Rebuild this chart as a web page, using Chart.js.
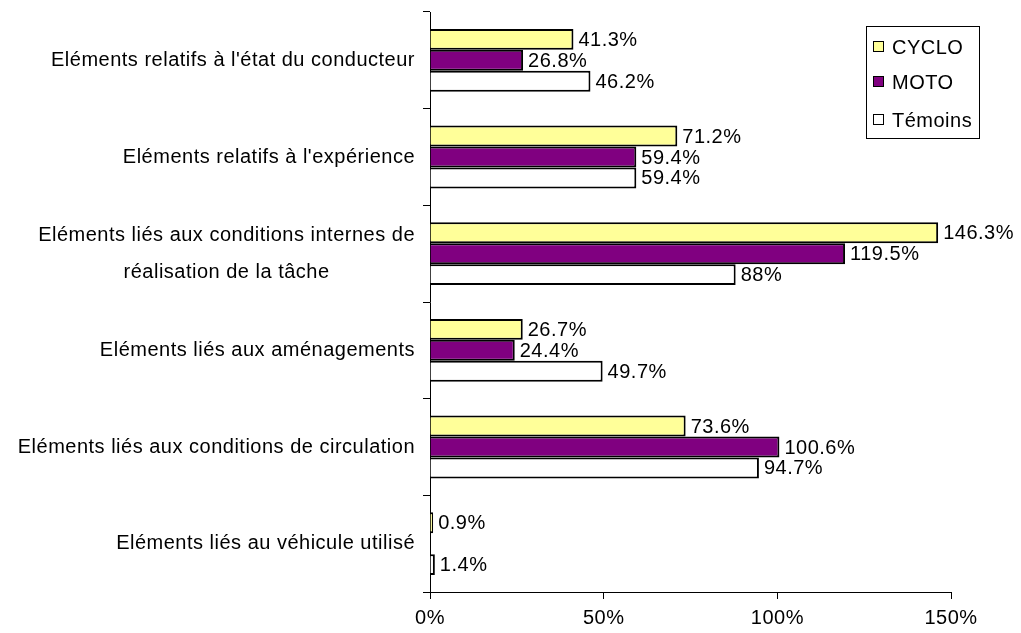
<!DOCTYPE html>
<html>
<head>
<meta charset="utf-8">
<script src="https://cdn.jsdelivr.net/npm/chart.js@4/dist/chart.umd.min.js"></script>
<style>
    html, body { margin: 0; padding: 0; background: #ffffff; }
    #wrap { width: 1021px; height: 633px; position: relative; }
</style>
</head>
<body>
<div id="wrap"><canvas id="chart"></canvas></div>
<script>
const categories = [
    ["Eléments relatifs à l'état du conducteur"],
    ["Eléments relatifs à l'expérience"],
    ["Eléments liés aux conditions internes de", "réalisation de la tâche"],
    ["Eléments liés aux aménagements"],
    ["Eléments liés aux conditions de circulation"],
    ["Eléments liés au véhicule utilisé"]
];
const seriesNames = ['CYCLO', 'MOTO', 'Témoins'];
const cycloValues = [41.3, 71.2, 146.3, 26.7, 73.6, 0.9];
const motoValues = [26.8, 59.4, 119.5, 24.4, 100.6, 0];
const temoinsValues = [46.2, 59.4, 88, 49.7, 94.7, 1.4];
const xTicks = [0, 50, 100, 150];

const FONT = '20px "Liberation Sans", Arial, sans-serif';
const SPACING = '0.5px';

Chart.defaults.font.family = '"Liberation Sans", Arial, sans-serif';
Chart.defaults.font.size = 20;
Chart.defaults.color = '#000000';

// slightly wider letter spacing, like the old office rendering
const spacing = {
    id: 'spacing',
    beforeDraw(chart) {
        chart.ctx.letterSpacing = SPACING;
    }
};

// category labels: block right aligned, lines centred inside it
const categoryLabels = {
    id: 'categoryLabels',
    afterDraw(chart) {
        const ctx = chart.ctx;
        const yScale = chart.scales.y;
        ctx.save();
        ctx.letterSpacing = SPACING;
        ctx.font = FONT;
        ctx.fillStyle = '#000';
        ctx.textAlign = 'center';
        ctx.textBaseline = 'middle';
        const right = yScale.right - 15;
        const lineH = 37;
        categories.forEach((lines, i) => {
            const cy = yScale.getPixelForValue(i);
            const maxW = Math.max(...lines.map(l => ctx.measureText(l).width));
            const cx = right - maxW / 2;
            const y0 = cy - (lines.length - 1) * lineH / 2;
            lines.forEach((l, j) => ctx.fillText(l, cx, y0 + j * lineH));
        });
        ctx.restore();
    }
};

// value labels at the end of each bar
const valueLabels = {
    id: 'valueLabels',
    afterDatasetsDraw(chart) {
        const ctx = chart.ctx;
        ctx.save();
        ctx.letterSpacing = SPACING;
        ctx.font = FONT;
        ctx.fillStyle = '#000';
        ctx.textAlign = 'left';
        ctx.textBaseline = 'middle';
        chart.data.datasets.forEach((ds, di) => {
            chart.getDatasetMeta(di).data.forEach((bar, i) => {
                const v = ds.data[i];
                if (!v) return;
                ctx.fillText(v + '%', bar.x + 5, bar.y + 1);
            });
        });
        ctx.restore();
    }
};

// boxed legend inside the plot, top right
const boxLegend = {
    id: 'boxLegend',
    afterDraw(chart) {
        const ctx = chart.ctx;
        ctx.save();
        ctx.letterSpacing = SPACING;
        ctx.strokeStyle = '#000';
        ctx.lineWidth = 1;
        ctx.strokeRect(866.5, 26.5, 113, 112);
        ctx.font = FONT;
        ctx.textAlign = 'left';
        ctx.textBaseline = 'middle';
        const rows = [47, 82, 120];
        chart.data.datasets.forEach((ds, i) => {
            ctx.fillStyle = ds.backgroundColor;
            ctx.fillRect(873.5, rows[i] - 5.5, 10, 10);
            ctx.strokeRect(873.5, rows[i] - 5.5, 10, 10);
            ctx.fillStyle = '#000';
            ctx.fillText(ds.label, 892, rows[i] + 1);
        });
        ctx.restore();
    }
};

const barStyle = {
    borderColor: '#000000',
    borderWidth: 2,
    categoryPercentage: 0.65,
    barPercentage: 1.0
};

new Chart(document.getElementById('chart').getContext('2d'), {
    type: 'bar',
    data: {
        labels: categories,
        datasets: [
            { label: seriesNames[0], data: cycloValues, backgroundColor: '#FFFF99', ...barStyle },
            { label: seriesNames[1], data: motoValues, backgroundColor: '#800080', ...barStyle },
            { label: seriesNames[2], data: temoinsValues, backgroundColor: '#FFFFFF', ...barStyle }
        ]
    },
    options: {
        indexAxis: 'y',
        responsive: true,
        maintainAspectRatio: false,
        animation: false,
        layout: {
            padding: { top: 12, right: 70, left: 0, bottom: 0 }
        },
        scales: {
            x: {
                min: 0,
                max: 150,
                afterBuildTicks: (scale) => { scale.ticks = xTicks.map(v => ({ value: v })); },
                afterFit: (scale) => { scale.height = 41; },
                ticks: {
                    callback: (v) => v + '%',
                    padding: 7,
                    maxRotation: 0,
                    font: { size: 20 }
                },
                grid: {
                    drawOnChartArea: false,
                    drawTicks: true,
                    tickLength: 7,
                    color: '#000000'
                },
                border: { display: true, color: '#000000', width: 1 }
            },
            y: {
                afterFit: (scale) => { scale.width = 430; },
                ticks: { display: false },
                grid: {
                    offset: true,
                    drawOnChartArea: false,
                    drawTicks: true,
                    tickLength: 7,
                    color: '#000000'
                },
                border: { display: true, color: '#000000', width: 1 }
            }
        },
        plugins: {
            legend: { display: false },
            tooltip: { enabled: false }
        }
    },
    plugins: [spacing, categoryLabels, valueLabels, boxLegend]
});
</script>
</body>
</html>
